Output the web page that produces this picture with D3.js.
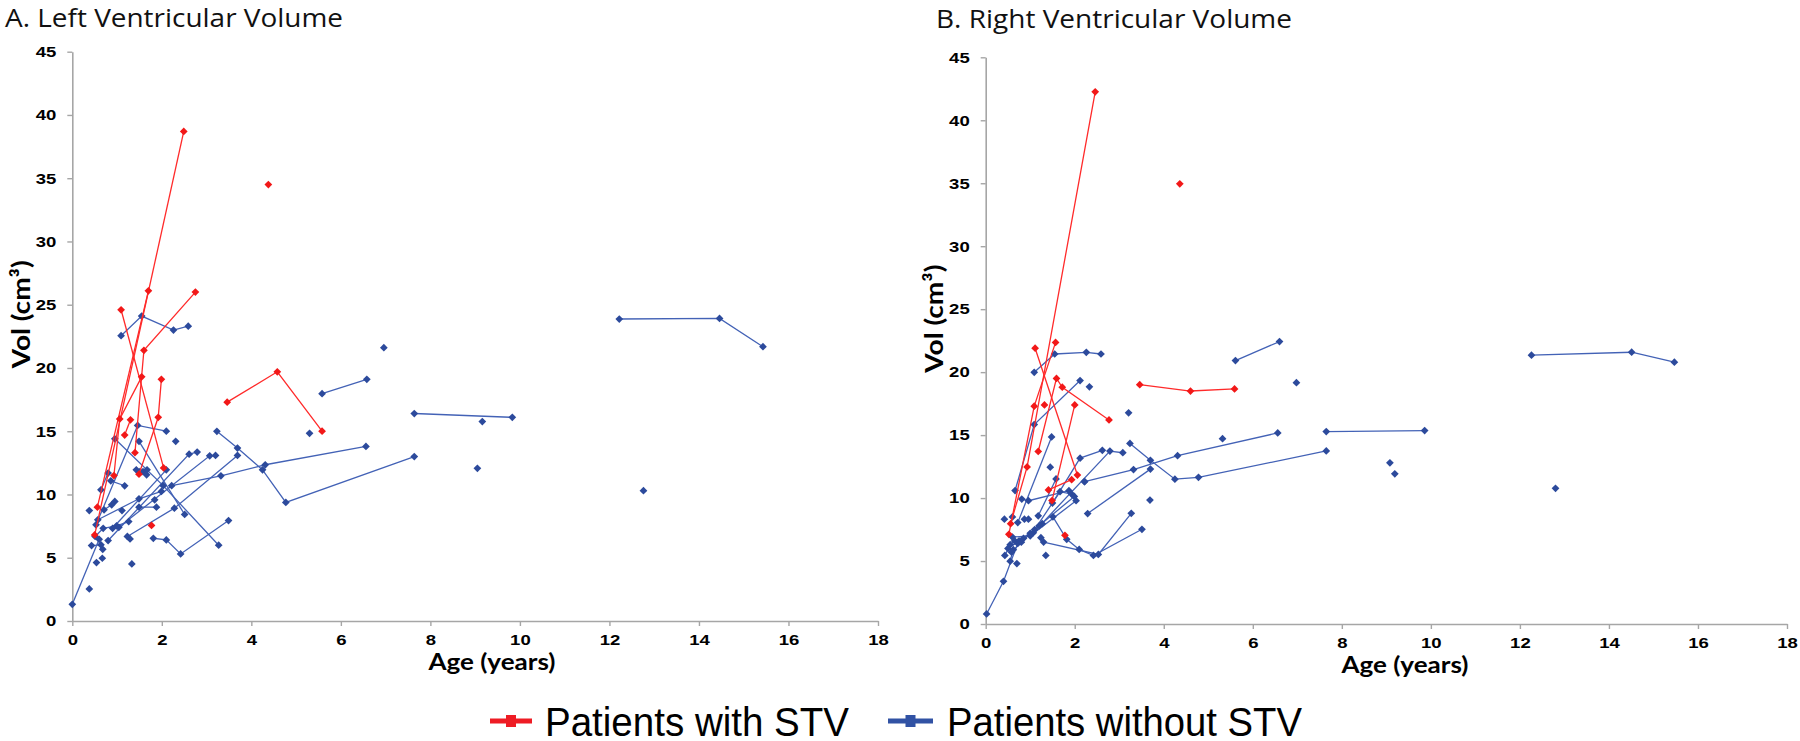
<!DOCTYPE html>
<html>
<head>
<meta charset="utf-8">
<script src="https://cdn.jsdelivr.net/npm/d3@7"></script>
<style>
  html, body { margin: 0; padding: 0; background: #fff; }
  svg { display: block; }
</style>
</head>
<body>
<svg id="chart" width="1800" height="741"></svg>
<script>
// ---------------- DATA ----------------
// Each patient = list of [age (years), volume (cm³)] measurements, connected in order.
const panelTitles = ["A. Left Ventricular Volume", "B. Right Ventricular Volume"];
const xAxisLabel = "Age (years)";
const yAxisLabel = "Vol (cm³)";
const legendLabels = ["Patients with STV", "Patients without STV"];
const xTicks = [0, 2, 4, 6, 8, 10, 12, 14, 16, 18];
const yTicks = [0, 5, 10, 15, 20, 25, 30, 35, 40, 45];

const lvWithSTV = [
  [[0.50, 6.8], [2.49, 38.7]],
  [[1.09, 24.6], [2.04, 12.1]],
  [[0.56, 9.0], [1.70, 26.1]],
  [[1.40, 13.3], [1.60, 21.4], [2.75, 26.0]],
  [[0.93, 11.5], [1.06, 15.97], [1.55, 19.3]],
  [[1.49, 11.6], [1.92, 16.1], [1.99, 19.1]],
  [[1.17, 14.7], [1.30, 15.9]],
  [[3.46, 17.3], [4.58, 19.7], [5.58, 15.0]],
  [[4.38, 34.5]],
  [[1.77, 7.55]]
];

const lvWithoutSTV = [
  [[1.09, 22.55], [1.55, 24.1], [2.26, 23.0], [2.59, 23.3]],
  [[5.58, 17.97], [6.58, 19.1]],
  [[6.96, 21.6]],
  [[3.23, 14.99], [3.69, 13.67], [4.25, 11.95], [4.77, 9.37], [7.64, 13.0]],
  [[2.22, 10.7], [3.32, 11.48], [4.31, 12.35], [6.56, 13.8]],
  [[5.30, 14.84]],
  [[7.64, 16.4], [9.83, 16.1]],
  [[9.16, 15.76]],
  [[9.05, 12.07]],
  [[12.76, 10.3]],
  [[12.22, 23.87], [14.46, 23.92], [15.43, 21.68]],
  [[0.53, 7.6], [1.46, 15.46], [2.10, 15.0]],
  [[0.95, 14.4], [2.03, 10.7], [3.27, 5.99]],
  [[1.49, 14.2], [2.51, 8.42]],
  [[2.31, 14.2]],
  [[0.80, 6.36], [2.61, 13.19], [2.79, 13.35]],
  [[1.23, 6.68], [2.28, 8.92], [3.69, 13.09]],
  [[1.81, 6.54], [2.10, 6.41], [2.42, 5.30], [3.49, 7.94]],
  [[0.00, 1.32], [0.60, 6.46]],
  [[0.38, 2.53]],
  [[0.38, 8.73]],
  [[0.64, 10.37], [0.80, 11.69]],
  [[0.86, 11.08], [1.17, 10.69]],
  [[0.57, 8.0], [1.49, 9.66], [1.99, 10.24]],
  [[1.49, 9.0], [1.88, 9.0]],
  [[1.04, 7.41], [3.07, 13.06], [3.20, 13.09]],
  [[0.90, 7.33], [2.10, 11.95]],
  [[1.43, 11.95], [1.58, 11.8], [1.67, 11.95]],
  [[1.51, 11.8], [1.66, 11.56]],
  [[1.84, 9.58]],
  [[0.71, 8.79], [0.88, 9.18], [0.95, 9.45]],
  [[1.11, 8.73]],
  [[0.51, 6.68], [0.69, 7.33], [0.99, 7.52], [1.26, 7.86]],
  [[0.43, 5.96], [0.64, 6.02], [0.68, 5.67]],
  [[0.67, 4.96]],
  [[0.54, 4.62]],
  [[1.33, 4.51]],
  [[1.29, 6.49]]
];

const rvWithSTV = [
  [[0.56, 7.97], [0.93, 12.47], [2.46, 42.26]],
  [[1.11, 21.9], [2.06, 11.83]],
  [[0.52, 7.12], [1.09, 17.3], [1.57, 22.36]],
  [[1.18, 13.7], [1.59, 19.5], [1.72, 18.8], [2.77, 16.2]],
  [[1.49, 9.8], [2.00, 17.4]],
  [[1.41, 10.65], [1.93, 11.46]],
  [[1.32, 17.4]],
  [[3.46, 19.0], [4.60, 18.5], [5.59, 18.67]],
  [[4.36, 34.95]],
  [[1.78, 7.04]]
];

const rvWithoutSTV = [
  [[1.09, 19.99], [1.55, 21.44], [2.26, 21.57], [2.59, 21.44]],
  [[0.66, 10.6], [1.09, 15.84], [2.12, 19.33]],
  [[2.33, 18.83]],
  [[5.61, 20.92], [6.60, 22.43]],
  [[6.98, 19.16]],
  [[3.21, 16.77]],
  [[3.24, 14.34], [3.70, 13.0], [4.25, 11.5], [4.78, 11.65], [7.65, 13.74]],
  [[2.22, 11.3], [3.32, 12.26], [4.31, 13.37], [6.56, 15.17]],
  [[2.29, 8.77], [3.70, 12.3]],
  [[7.65, 15.28], [9.86, 15.36]],
  [[5.32, 14.72]],
  [[9.08, 12.8]],
  [[9.19, 11.93]],
  [[12.80, 10.77]],
  [[12.26, 21.35], [14.51, 21.58], [15.47, 20.79]],
  [[1.50, 9.6], [2.12, 13.17], [2.62, 13.79]],
  [[1.07, 7.25], [2.79, 13.73], [3.08, 13.6]],
  [[0.02, 0.8], [0.40, 3.39], [0.72, 6.4]],
  [[1.51, 8.51], [1.82, 6.72], [2.10, 5.92], [2.42, 5.44], [3.51, 7.52]],
  [[1.30, 6.51], [2.53, 5.52], [3.27, 8.79]],
  [[0.81, 9.92], [0.96, 9.79], [1.87, 10.59]],
  [[0.72, 8.05], [1.48, 14.85]],
  [[1.45, 12.45]],
  [[1.18, 8.59], [1.58, 11.52]],
  [[0.42, 8.32]],
  [[0.60, 8.5]],
  [[0.87, 8.32], [0.96, 8.32]],
  [[3.69, 9.84]],
  [[0.43, 5.44], [0.55, 6.3], [0.65, 6.6], [0.85, 6.8], [1.00, 7.2]],
  [[0.55, 4.99], [0.62, 5.9]],
  [[0.70, 4.8]],
  [[1.35, 5.44]],
  [[1.27, 7.97]],
  [[1.24, 6.85]],
  [[0.50, 6.0], [0.75, 6.6], [1.10, 7.5], [1.67, 10.51], [1.93, 10.32]],
  [[0.58, 5.7], [0.80, 6.5], [1.20, 7.8], [1.99, 10.13]],
  [[0.60, 6.9], [1.00, 7.0], [2.03, 9.79]],
  [[2.22, 11.31]]
];

// ---------------- LAYOUT / STYLE ----------------
const RED = "#f21818", RED_LINE = "#ff2a2a";
const BLUE = "#2c4a9c", BLUE_LINE = "#4362b6";
const AXIS_GRAY = "#a6a6a6";

const panels = [
  { title: panelTitles[0], titleX: 5, titleY: 27, titleLen: 338,
    x0: 72.3, x1: 878, yB: 621, yT: 51.7,
    ylabX: 20, xlabX: 492, with: lvWithSTV, without: lvWithoutSTV },
  { title: panelTitles[1], titleX: 936, titleY: 28, titleLen: 356,
    x0: 985.7, x1: 1787, yB: 624, yT: 57.3,
    ylabX: 933, xlabX: 1405, with: rvWithSTV, without: rvWithoutSTV }
];

const svg = d3.select("#chart");
const diamond = d3.symbol().type(d3.symbolSquare).size(30);

panels.forEach(p => {
  const x = d3.scaleLinear().domain([0, 18]).range([p.x0, p.x1]);
  const y = d3.scaleLinear().domain([0, 45]).range([p.yB, p.yT]);
  const g = svg.append("g");

  // title
  g.append("text")
    .attr("x", p.titleX).attr("y", p.titleY)
    .attr("textLength", p.titleLen).attr("lengthAdjust", "spacingAndGlyphs")
    .style("font-family", "'Open Sans', 'Noto Sans', sans-serif")
    .style("font-size", "25px").style("fill", "#111")
    .text(p.title);

  // axes
  const yAx = g.append("g").attr("transform", `translate(${p.x0},0)`)
    .call(d3.axisLeft(y).tickValues(yTicks).tickSize(5).tickSizeOuter(0).tickPadding(11));
  const xAx = g.append("g").attr("transform", `translate(0,${p.yB})`)
    .call(d3.axisBottom(x).tickValues(xTicks).tickSize(5).tickSizeOuter(0).tickPadding(8));
  [yAx, xAx].forEach(a => {
    a.select(".domain").attr("stroke", AXIS_GRAY).attr("stroke-width", 1.6);
    a.selectAll(".tick line").attr("stroke", AXIS_GRAY).attr("stroke-width", 1.4);
    a.selectAll(".tick text")
      .style("font-family", "'Liberation Sans', Arial, sans-serif")
      .style("font-weight", "bold").style("font-size", "15px").style("fill", "#000")
      .attr("textLength", function () { return this.textContent.length * 10.3; })
      .attr("lengthAdjust", "spacingAndGlyphs");
  });

  // axis labels
  g.append("text")
    .attr("transform", `translate(${p.ylabX},${(p.yB + p.yT) / 2 - 22}) rotate(-90)`)
    .attr("text-anchor", "middle").attr("dominant-baseline", "central")
    .attr("textLength", 108).attr("lengthAdjust", "spacingAndGlyphs")
    .style("font-family", "Lato, 'Open Sans', sans-serif")
    .style("font-weight", "bold").style("font-size", "24px").style("fill", "#000")
    .text(yAxisLabel);
  g.append("text")
    .attr("x", p.xlabX).attr("y", p.yB + 49)
    .attr("text-anchor", "middle")
    .attr("textLength", 127).attr("lengthAdjust", "spacingAndGlyphs")
    .style("font-family", "Lato, 'Open Sans', sans-serif")
    .style("font-weight", "bold").style("font-size", "23px").style("fill", "#000")
    .text(xAxisLabel);

  const line = d3.line().x(d => x(d[0])).y(d => y(d[1]));

  const drawGroup = (data, lineColor, markColor) => {
    const gg = g.append("g");
    gg.selectAll("path.ln").data(data.filter(s => s.length > 1)).join("path")
      .attr("class", "ln").attr("d", line)
      .attr("fill", "none").attr("stroke", lineColor).attr("stroke-width", 1.3);
    gg.selectAll("path.mk").data(data.flat()).join("path")
      .attr("class", "mk").attr("d", diamond)
      .attr("transform", d => `translate(${x(d[0])},${y(d[1])}) rotate(45)`)
      .attr("fill", markColor);
  };
  drawGroup(p.without, BLUE_LINE, BLUE);
  drawGroup(p.with, RED_LINE, RED);
});

// ---------------- LEGEND ----------------
const legendItems = [
  { label: legendLabels[0], color: "#ee1c24", lx0: 490, lx1: 532, tx: 545, tlen: 304 },
  { label: legendLabels[1], color: "#3152a4", lx0: 888, lx1: 933, tx: 947, tlen: 355 }
];
const lg = svg.append("g");
legendItems.forEach(it => {
  const cy = 721;
  lg.append("line").attr("x1", it.lx0).attr("x2", it.lx1).attr("y1", cy).attr("y2", cy)
    .attr("stroke", it.color).attr("stroke-width", 5);
  lg.append("rect").attr("x", (it.lx0 + it.lx1) / 2 - 5).attr("y", cy - 6)
    .attr("width", 10).attr("height", 12).attr("fill", it.color);
  lg.append("text").attr("x", it.tx).attr("y", cy + 15)
    .attr("textLength", it.tlen).attr("lengthAdjust", "spacingAndGlyphs")
    .style("font-family", "'Liberation Sans', Arial, sans-serif")
    .style("font-size", "40px").style("fill", "#000")
    .text(it.label);
});
</script>
</body>
</html>
